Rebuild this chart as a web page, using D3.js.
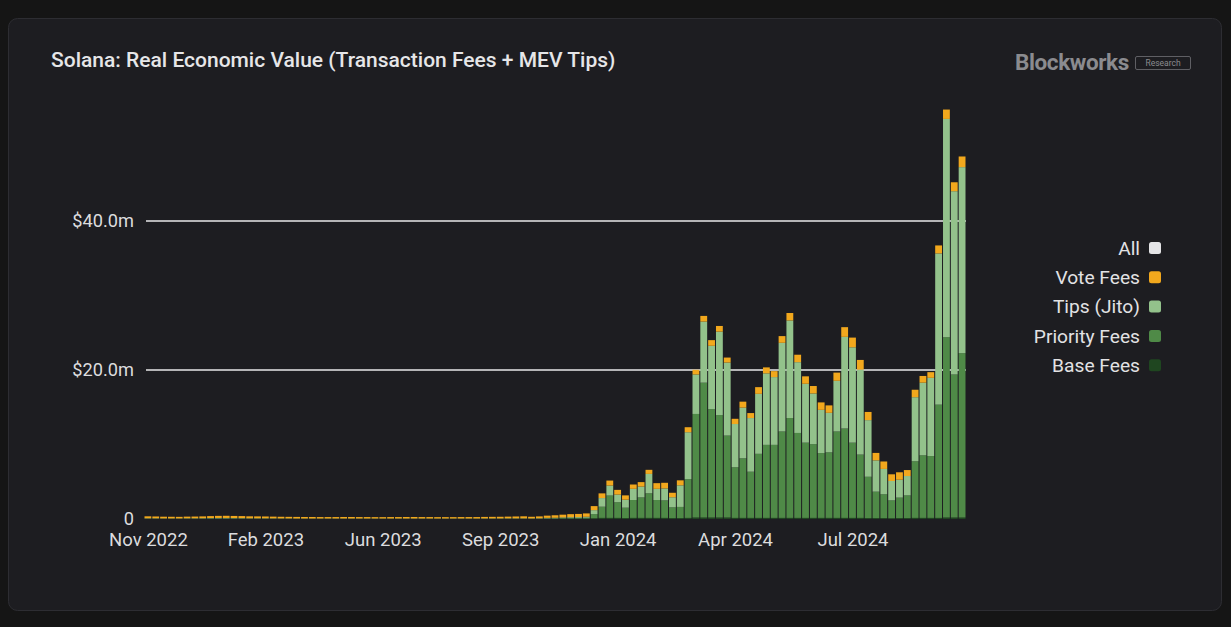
<!DOCTYPE html>
<html>
<head>
<meta charset="utf-8">
<script src="https://cdn.jsdelivr.net/npm/d3@7"></script>
<style>
  html, body { margin: 0; padding: 0; background: #151515; }
  svg { display: block; }
  text { font-family: Roboto, "Noto Sans", sans-serif; }
</style>
</head>
<body>
<div id="chart"></div>
<script>
// weekly buckets, Monday start
const firstWeek = new Date(2022, 10, 7)
const lastWeek = new Date(2024, 10, 4)

const tickWeeks = ["2022-11-07", "2023-02-20", "2023-06-05", "2023-09-18", "2024-01-01", "2024-04-15", "2024-07-29"]
const yTicks = [0, 20, 40]

const seriesKeys = ["base", "priority", "tips", "vote"]
const legendLabels = ["All", "Vote Fees", "Tips (Jito)", "Priority Fees", "Base Fees"]
const legendColors = ["#e4e4e6", "#f2a81d", "#93c28b", "#4f8a47", "#1f4620"]

// values in $m, oldest first
const voteFees = [
  0.26, 0.24, 0.23, 0.22, 0.21, 0.22, 0.23, 0.24, 0.26, 0.28, 0.29, 0.28, 0.27, 0.26, 0.25, 0.24,
  0.23, 0.22, 0.21, 0.21, 0.2, 0.2, 0.19, 0.19, 0.19, 0.2, 0.2, 0.19, 0.19, 0.18, 0.18, 0.19,
  0.19, 0.2, 0.2, 0.19, 0.19, 0.18, 0.18, 0.18, 0.19, 0.19, 0.19, 0.2, 0.21, 0.22, 0.23, 0.25, 0.27,
  0.22, 0.25, 0.3, 0.33, 0.36, 0.4, 0.42, 0.45,
  0.54, 0.63, 0.67, 0.63, 0.58, 0.58, 0.6, 0.55, 0.76, 0.76, 0.6, 0.67, 0.67, 0.63, 0.76, 0.76,
  0.76, 0.67, 0.7, 0.8, 0.67, 0.9, 0.8, 0.8, 0.9, 1.0, 1.0, 1.0, 1.0, 1.0, 1.0, 1.1,
  1.3, 1.3, 1.3, 1.1, 1.0, 1.0, 0.9, 1.0, 0.8, 1.0, 0.9, 0.76, 1.07, 1.26, 1.2, 1.43
]
const tipsJito = [
  0.03, 0.03, 0.02, 0.02, 0.02, 0.03, 0.03, 0.04, 0.04, 0.05, 0.05, 0.04, 0.04, 0.03, 0.03, 0.03,
  0.03, 0.02, 0.02, 0.02, 0.02, 0.02, 0.02, 0.02, 0.02, 0.02, 0.02, 0.02, 0.02, 0.02, 0.02, 0.02,
  0.02, 0.02, 0.02, 0.02, 0.02, 0.02, 0.02, 0.02, 0.02, 0.02, 0.02, 0.03, 0.03, 0.03, 0.03, 0.03, 0.03,
  0.03, 0.04, 0.06, 0.07, 0.09, 0.1, 0.11, 0.13,
  0.54, 1.16, 1.34, 1.03, 1.07, 1.5, 1.45, 2.6, 1.5, 1.6, 1.35, 2.9, 6.3, 5.3, 8.2, 8.5,
  11.2, 9.8, 5.8, 6.8, 7.2, 8.05, 9.6, 9.1, 11.9, 13.1, 9.5, 7.9, 6.8, 5.8, 5.3, 6.8,
  12.3, 12.8, 11.4, 7.6, 4.2, 3.4, 2.6, 2.4, 2.6, 8.6, 9.75, 10.5, 20.3, 29.3, 24.6, 24.97
]
const priorityFees = [
  0.03, 0.03, 0.02, 0.02, 0.02, 0.03, 0.03, 0.03, 0.04, 0.04, 0.04, 0.04, 0.03, 0.03, 0.03, 0.03,
  0.02, 0.02, 0.02, 0.02, 0.02, 0.02, 0.02, 0.02, 0.02, 0.02, 0.02, 0.02, 0.02, 0.02, 0.02, 0.02,
  0.02, 0.02, 0.02, 0.02, 0.02, 0.02, 0.02, 0.02, 0.02, 0.02, 0.02, 0.02, 0.02, 0.02, 0.03, 0.03, 0.03,
  0.02, 0.03, 0.05, 0.06, 0.08, 0.1, 0.1, 0.12,
  0.55, 1.5, 3.0, 2.1, 1.4, 2.4, 2.75, 3.3, 2.4, 2.35, 1.45, 1.5, 5.2, 13.9, 18.1, 14.55,
  13.75, 11.0, 6.8, 8.0, 6.2, 8.6, 9.8, 9.8, 11.6, 13.4, 11.4, 10.1, 9.9, 8.7, 8.8, 11.6,
  12.0, 10.1, 8.5, 5.55, 3.55, 3.2, 2.4, 2.75, 3.05, 7.6, 8.4, 8.3, 15.2, 24.2, 19.2, 22.06
]
const baseFees = [
  0.04, 0.04, 0.04, 0.04, 0.04, 0.04, 0.04, 0.04, 0.05, 0.05, 0.05, 0.05, 0.05, 0.04, 0.04, 0.04,
  0.04, 0.04, 0.04, 0.03, 0.03, 0.03, 0.03, 0.03, 0.03, 0.03, 0.03, 0.03, 0.03, 0.03, 0.03, 0.03,
  0.03, 0.03, 0.03, 0.03, 0.03, 0.03, 0.03, 0.03, 0.03, 0.03, 0.03, 0.03, 0.03, 0.03, 0.03, 0.03, 0.03,
  0.03, 0.03, 0.04, 0.04, 0.05, 0.05, 0.05, 0.05,
  0.1, 0.15, 0.15, 0.15, 0.12, 0.15, 0.15, 0.15, 0.15, 0.15, 0.12, 0.12, 0.15, 0.2, 0.2, 0.2,
  0.2, 0.2, 0.15, 0.15, 0.15, 0.15, 0.15, 0.15, 0.15, 0.15, 0.15, 0.15, 0.15, 0.15, 0.15, 0.15,
  0.15, 0.15, 0.15, 0.12, 0.12, 0.12, 0.1, 0.12, 0.12, 0.15, 0.15, 0.15, 0.15, 0.2, 0.2, 0.2
]

const weeks = d3.timeMonday.range(firstWeek, d3.timeDay.offset(lastWeek, 1))
const rows = weeks.map((w, i) => ({
  week: w, base: baseFees[i], priority: priorityFees[i], tips: tipsJito[i], vote: voteFees[i]
}))
const colorOf = {
  base: legendColors[4], priority: legendColors[3], tips: legendColors[2], vote: legendColors[1]
}

const width = 1231
const height = 627
const parseDay = d3.timeParse("%Y-%m-%d")
const halfWeek = 3.5 * 864e5

const svg = d3.select("#chart").append("svg")
  .attr("width", width)
  .attr("height", height)

// card
svg.append("rect")
  .attr("x", 8.5).attr("y", 18.5)
  .attr("width", 1213).attr("height", 592)
  .attr("rx", 9)
  .style("fill", "#1d1d21")
  .style("stroke", "#2d2d32")

svg.append("text")
  .attr("x", 51).attr("y", 67)
  .text("Solana: Real Economic Value (Transaction Fees + MEV Tips)")
  .style("fill", "#e6e6e8")
  .style("font-size", "21px")
  .style("font-weight", 500)

// logo
svg.append("text")
  .attr("x", 1015).attr("y", 69.5)
  .text("Blockworks")
  .style("fill", "#8b8b8f")
  .style("font-size", "22.5px")
  .style("font-weight", 700)
  .style("letter-spacing", "-0.4px")
svg.append("rect")
  .attr("x", 1135.5).attr("y", 56.5)
  .attr("width", 55).attr("height", 13)
  .attr("rx", 1.5)
  .style("fill", "none")
  .style("stroke", "#5f5f64")
svg.append("text")
  .attr("x", 1163).attr("y", 66)
  .attr("text-anchor", "middle")
  .text("Research")
  .style("fill", "#8b8b8f")
  .style("font-size", "8.5px")

const x = d3.scaleTime()
  .domain([new Date(+weeks[0] - halfWeek), new Date(+weeks[weeks.length - 1] + halfWeek)])
  .range([144, 966])

const y = d3.scaleLinear()
  .domain([0, 40])
  .range([519, 221])

const step = x(weeks[1]) - x(weeks[0])

// grid
svg.append("g")
  .selectAll("line")
  .data(yTicks.filter(d => d > 0))
  .enter().append("line")
  .attr("x1", 146).attr("x2", 966)
  .attr("y1", d => y(d)).attr("y2", d => y(d))
  .style("stroke", "#e8e8ea")
  .style("stroke-width", 1.6)

const stacked = d3.stack().keys(seriesKeys)(rows)

svg.append("g")
  .selectAll("g")
  .data(stacked)
  .enter().append("g")
  .style("fill", d => colorOf[d.key])
  .selectAll("rect")
  .data(d => d)
  .enter().append("rect")
  .attr("x", d => x(d.data.week) - step / 2 + 0.5)
  .attr("width", step - 1)
  .attr("y", d => y(d[1]))
  .attr("height", d => Math.max(0, y(d[0]) - y(d[1])))

// y axis
const yAxis = svg.append("g")
  .attr("transform", "translate(146,0)")
  .call(d3.axisLeft(y)
    .tickValues(yTicks)
    .tickSize(0)
    .tickPadding(12)
    .tickFormat(d => d === 0 ? "0" : "$" + d.toFixed(1) + "m"))
yAxis.select(".domain").remove()
yAxis.selectAll("text")
  .style("fill", "#dcdcde")
  .style("font-size", "18.2px")
  .style("font-family", "Roboto, sans-serif")

// x axis
const xAxis = svg.append("g")
  .attr("transform", "translate(0,521)")
  .call(d3.axisBottom(x)
    .tickValues(tickWeeks.map(parseDay))
    .tickSize(0)
    .tickPadding(12)
    .tickFormat(d3.timeFormat("%b %Y")))
xAxis.select(".domain").remove()
xAxis.selectAll("text")
  .style("fill", "#dcdcde")
  .style("font-size", "18.5px")
  .style("font-family", "Roboto, sans-serif")

// legend
const legend = svg.append("g")
  .selectAll("g")
  .data(legendLabels)
  .enter().append("g")
  .attr("transform", (d, i) => "translate(0," + (248 + i * 29.3) + ")")

legend.append("text")
  .attr("x", 1140)
  .attr("dy", "0.35em")
  .attr("text-anchor", "end")
  .text(d => d)
  .style("fill", "#e2e2e4")
  .style("font-size", "19.2px")

legend.append("rect")
  .attr("x", 1149).attr("y", -6)
  .attr("width", 12).attr("height", 12)
  .attr("rx", 2.5)
  .style("fill", (d, i) => legendColors[i])
</script>
</body>
</html>
